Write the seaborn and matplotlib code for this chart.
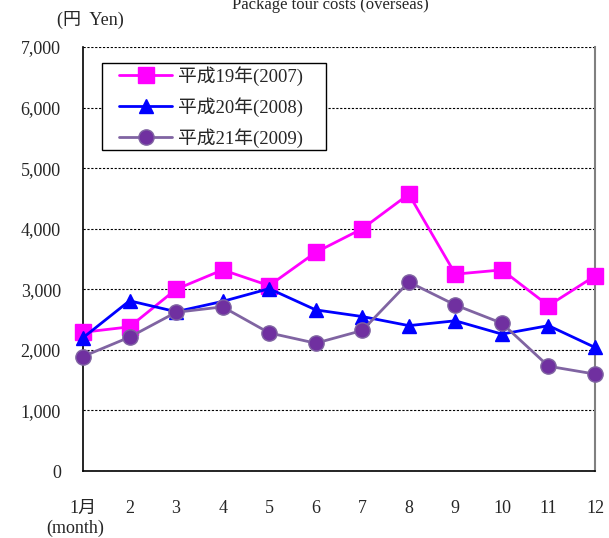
import matplotlib
matplotlib.use("Agg")
import matplotlib.pyplot as plt
from matplotlib.patches import Rectangle
import seaborn as sns
import pandas as pd

months = list(range(1, 13))
month_labels = ["1月", "2", "3", "4", "5", "6", "7", "8", "9", "10", "11", "12"]
series_names = ["平成19年(2007)", "平成20年(2008)", "平成21年(2009)"]
y2007 = [2290, 2380, 3000, 3320, 3060, 3610, 4000, 4570, 3250, 3320, 2730, 3220]
y2008 = [2200, 2810, 2630, 2800, 3010, 2660, 2550, 2400, 2480, 2260, 2400, 2040]
y2009 = [1890, 2210, 2620, 2710, 2280, 2110, 2320, 3120, 2740, 2440, 1730, 1600]
yticks = [0, 1000, 2000, 3000, 4000, 5000, 6000, 7000]
ytick_labels = ["0", "1,000", "2,000", "3,000", "4,000", "5,000", "6,000", "7,000"]

sns.set_theme(style="white")
plt.rcParams["font.family"] = ["Liberation Serif", "Noto Sans CJK JP"]

df = pd.DataFrame({
    "month": months * 3,
    "cost": y2007 + y2008 + y2009,
    "series": [series_names[0]] * 12 + [series_names[1]] * 12 + [series_names[2]] * 12,
})

W, H = 609, 538
fig = plt.figure(figsize=(W / 100, H / 100), dpi=100)
ax = fig.add_axes([83 / W, 1 - 471 / H, (595 - 83) / W, (471 - 47) / H])

line_colors = ["#FF00FF", "#0000FF", "#8064A2"]
face_colors = ["#FF00FF", "#0000FF", "#7030A0"]
markers = ["s", "^", "o"]
for i, name in enumerate(series_names):
    sub = df[df["series"] == name]
    sns.lineplot(data=sub, x="month", y="cost", ax=ax, color=line_colors[i],
                 marker=markers[i], markersize=11 if markers[i] != "^" else 10.5,
                 markerfacecolor=face_colors[i], markeredgecolor=line_colors[i],
                 markeredgewidth=1, linewidth=2, label=name, zorder=3 + i, clip_on=False)

ax.set_xlim(1, 12)
ax.set_ylim(0, 7000)
ax.set_yticks(yticks)
ax.set_yticklabels(ytick_labels)
ax.set_xticks(months)
ax.set_xticklabels(month_labels)
ax.set_xlabel("")
ax.set_ylabel("")
ax.grid(axis="y", color="black", linestyle=(0, (2, 1.5)), linewidth=0.8)
ax.grid(axis="x", visible=False)
ax.tick_params(axis="y", length=0, pad=16, labelsize=13)
ax.tick_params(axis="x", direction="in", length=5, width=1, color="black", pad=21, labelsize=13)

ax.spines["top"].set_visible(False)
ax.spines["left"].set_color("black")
ax.spines["left"].set_linewidth(1.2)
ax.spines["bottom"].set_color("black")
ax.spines["bottom"].set_linewidth(1.2)
ax.spines["right"].set_color("#808080")
ax.spines["right"].set_linewidth(1.5)

# legend frame box (white, black edge) drawn behind the legend entries
frame = Rectangle((102 / W, 1 - 150 / H), (326 - 102) / W, (150 - 63) / H,
                  transform=fig.transFigure, facecolor="white", edgecolor="black",
                  linewidth=1, zorder=10, clip_on=False)
ax.add_patch(frame)

leg = ax.legend(loc="upper left", bbox_to_anchor=(119 / W, 1 - 66 / H),
                bbox_transform=fig.transFigure, frameon=False,
                fontsize=13.5, handlelength=2.85, borderpad=0, labelspacing=0.6,
                handletextpad=0.3, borderaxespad=0)
leg.set_zorder(11)

fig.text(330 / W, 1 - 5 / H, "Package tour costs (overseas)", ha="center", va="center", fontsize=12)
fig.text(90 / W, 1 - 20 / H, "(円  Yen)", ha="center", va="center", fontsize=13)
fig.text(75 / W, 1 - 528 / H, "(month)", ha="center", va="center", fontsize=13)

fig.savefig("out.png", dpi=100)
